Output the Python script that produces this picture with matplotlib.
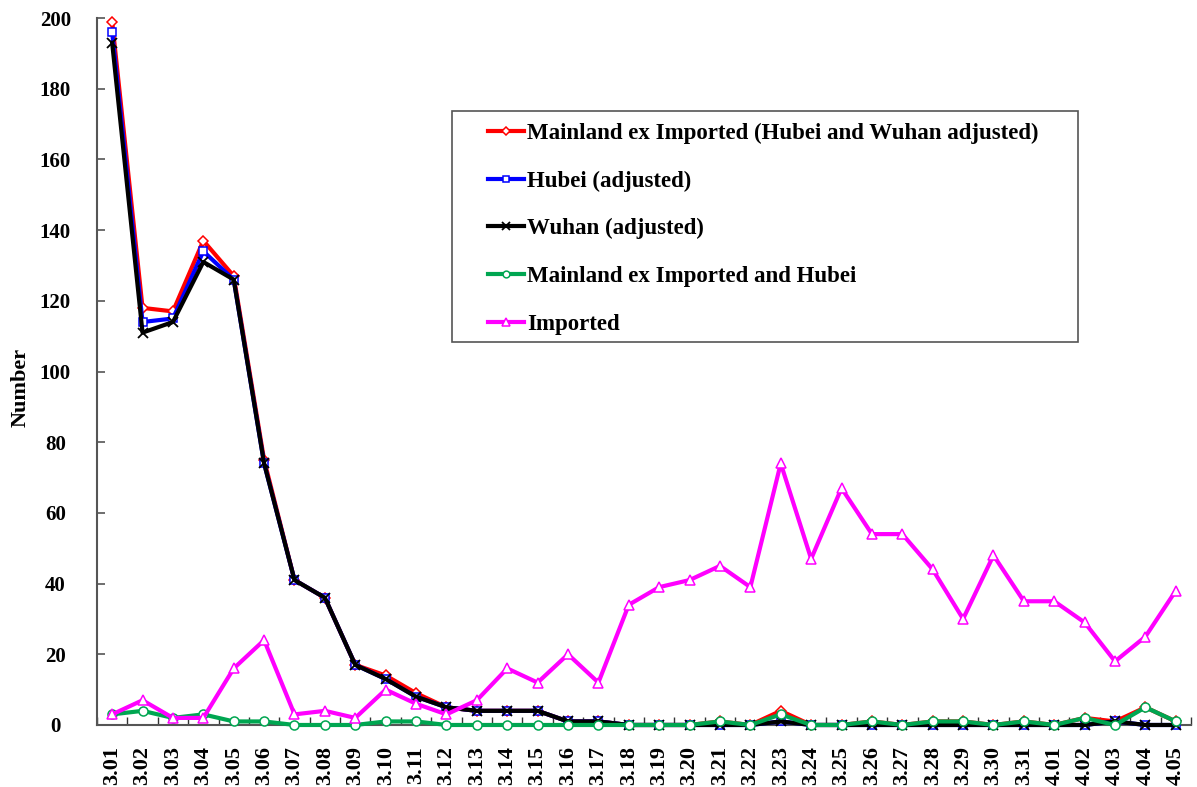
import matplotlib
matplotlib.use("Agg")
import matplotlib.pyplot as plt
from matplotlib.ticker import FixedLocator
from matplotlib.patches import Rectangle

plt.rcParams['font.family'] = ['Liberation Serif', 'DejaVu Serif']
plt.rcParams['font.weight'] = 'bold'

dates = ["3.01", "3.02", "3.03", "3.04", "3.05", "3.06", "3.07", "3.08", "3.09", "3.10",
         "3.11", "3.12", "3.13", "3.14", "3.15", "3.16", "3.17", "3.18", "3.19", "3.20",
         "3.21", "3.22", "3.23", "3.24", "3.25", "3.26", "3.27", "3.28", "3.29", "3.30",
         "3.31", "4.01", "4.02", "4.03", "4.04", "4.05"]

mainland_ex_imported = [199, 118, 117, 137, 127, 75, 41, 36, 17, 14,
                        9, 5, 4, 4, 4, 1, 1, 0, 0, 0,
                        1, 0, 4, 0, 0, 1, 0, 1, 1, 0,
                        1, 0, 2, 1, 5, 1]
hubei = [196, 114, 115, 134, 126, 74, 41, 36, 17, 13,
         8, 5, 4, 4, 4, 1, 1, 0, 0, 0,
         0, 0, 1, 0, 0, 0, 0, 0, 0, 0,
         0, 0, 0, 1, 0, 0]
wuhan = [193, 111, 114, 131, 126, 74, 41, 36, 17, 13,
         8, 5, 4, 4, 4, 1, 1, 0, 0, 0,
         0, 0, 1, 0, 0, 0, 0, 0, 0, 0,
         0, 0, 0, 1, 0, 0]
ex_imported_hubei = [3, 4, 2, 3, 1, 1, 0, 0, 0, 1,
                     1, 0, 0, 0, 0, 0, 0, 0, 0, 0,
                     1, 0, 3, 0, 0, 1, 0, 1, 1, 0,
                     1, 0, 2, 0, 5, 1]
imported = [3, 7, 2, 2, 16, 24, 3, 4, 2, 10,
            6, 3, 7, 16, 12, 20, 12, 34, 39, 41,
            45, 39, 74, 47, 67, 54, 54, 44, 30, 48,
            35, 35, 29, 18, 25, 38]

labels = ["Mainland ex Imported (Hubei and Wuhan adjusted)", "Hubei (adjusted)",
          "Wuhan (adjusted)", "Mainland ex Imported and Hubei", "Imported"]

fig = plt.figure(figsize=(11.97, 7.87), dpi=100)
ax = fig.add_axes([0.081, 0.0788, 0.914, 0.8983])

x = list(range(len(dates)))
lw = 3.0
ax.plot(x, mainland_ex_imported, color='#FF0000', lw=lw, marker='D', ms=5,
        mfc='white', mec='#FF0000', mew=1.1, label=labels[0], clip_on=False, zorder=3)
ax.plot(x, hubei, color='#0000FF', lw=lw, marker='s', ms=6,
        mfc='white', mec='#0000FF', mew=1.1, label=labels[1], clip_on=False, zorder=4)
ax.plot(x, wuhan, color='black', lw=lw, marker='x', ms=7,
        mec='black', mew=1.3, label=labels[2], clip_on=False, zorder=5)
ax.plot(x, ex_imported_hubei, color='#00A651', lw=lw, marker='o', ms=6.5,
        mfc='white', mec='#00A651', mew=1.1, label=labels[3], clip_on=False, zorder=6)
ax.plot(x, imported, color='#FF00FF', lw=lw, marker='^', ms=7,
        mfc='white', mec='#FF00FF', mew=1.1, label=labels[4], clip_on=False, zorder=7)

ax.set_xlim(-0.5, len(dates) - 0.5)
ax.set_ylim(0, 200)
ax.set_yticks(range(0, 201, 20))
ax.set_xticks(x)
ax.set_xticklabels(dates, rotation=90, fontsize=16, fontweight='bold')
ax.xaxis.set_minor_locator(FixedLocator([i - 0.5 for i in range(len(dates) + 1)]))
ax.tick_params(axis='x', which='major', length=0, pad=15)
ax.tick_params(axis='x', which='minor', direction='in', length=6, width=1, color='#333333')
ax.tick_params(axis='y', which='major', direction='in', length=6, width=1.2,
               color='#555555', labelsize=15, pad=30)
for lab in ax.get_yticklabels():
    lab.set_fontweight('bold')
    lab.set_horizontalalignment('center')

ax.set_ylabel("Number", fontsize=16, fontweight='bold')
ax.yaxis.set_label_coords(-0.061, 0.478)
for s in ['top', 'right']:
    ax.spines[s].set_visible(False)
for s in ['left', 'bottom']:
    ax.spines[s].set_color('#555555')
    ax.spines[s].set_linewidth(1.5)

# legend frame drawn as a plain box
box = Rectangle((0.3245, 0.5417), 0.8967 - 0.3245, 0.8685 - 0.5417,
                transform=ax.transAxes, facecolor='white', edgecolor='#555555',
                linewidth=1.2, zorder=9)
ax.add_patch(box)
leg = ax.legend(loc='upper left', bbox_to_anchor=(0.3575, 0.852),
                prop={'weight': 'bold', 'size': 16.5}, frameon=False,
                handlelength=1.55, handletextpad=0.15, labelspacing=1.16,
                borderpad=0, borderaxespad=0, markerscale=0.75)
leg.set_zorder(10)

fig.savefig("out.png", dpi=100)
